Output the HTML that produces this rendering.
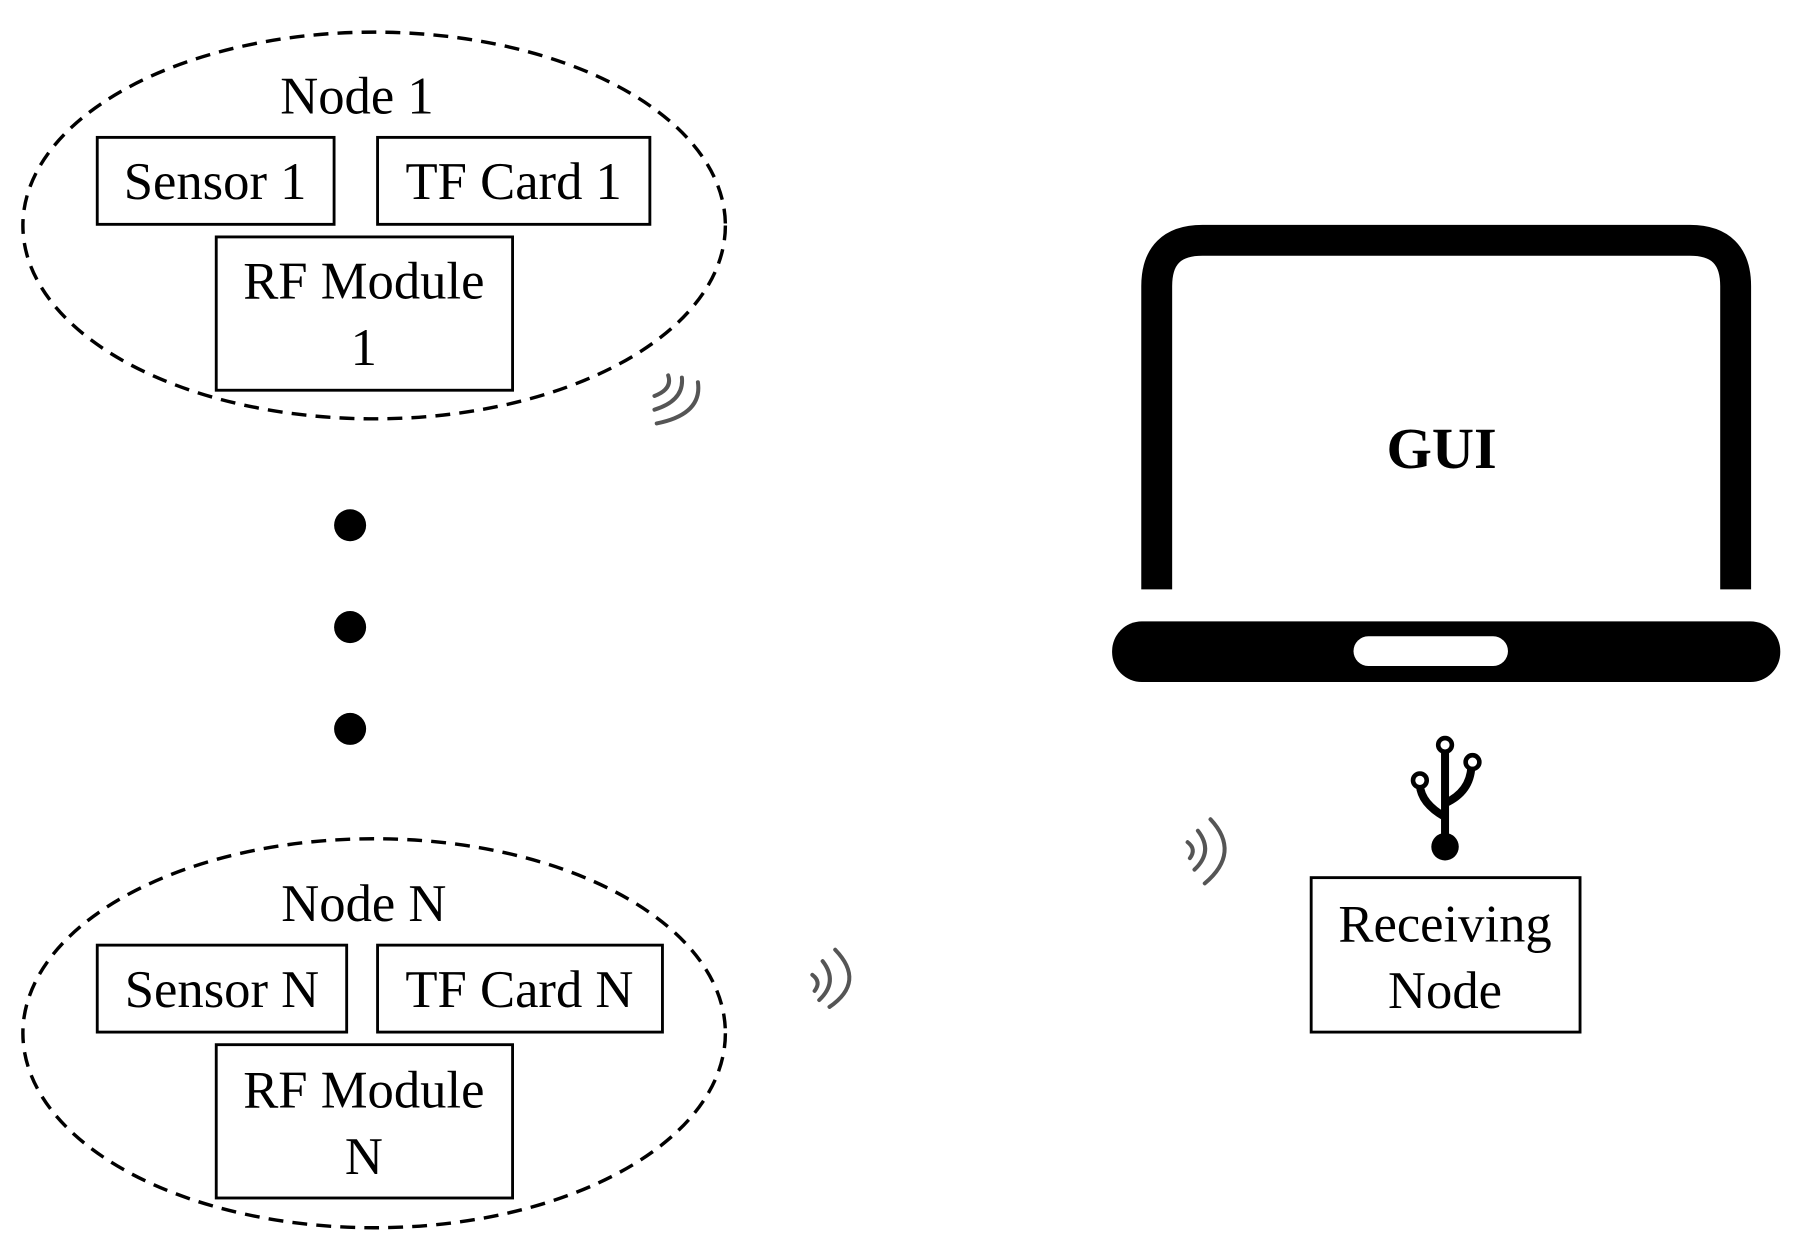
<!DOCTYPE html>
<html><head><meta charset="utf-8"><style>html,body{margin:0;padding:0;background:#fff}svg{display:block}</style></head>
<body>
<svg width="1794" height="1253" viewBox="0 0 1568 1095" xmlns="http://www.w3.org/2000/svg" font-family="Liberation Serif, serif">
<rect width="1568" height="1095" fill="#fff"/>
<g fill="none" stroke="#000" stroke-width="3" stroke-dasharray="13,8">
<ellipse cx="327" cy="197" rx="307" ry="169"/>
<ellipse cx="327" cy="903" rx="307" ry="170"/>
</g>
<g fill="#fff" stroke="#000" stroke-width="2.5">
<rect x="85" y="120" width="207" height="76"/>
<rect x="330" y="120" width="238" height="76"/>
<rect x="189" y="207" width="259" height="134"/>
<rect x="85" y="826" width="218" height="76"/>
<rect x="330" y="826" width="249" height="76"/>
<rect x="189" y="913" width="259" height="134"/>
<rect x="1146" y="767" width="235" height="135"/>
</g>
<g font-size="46" text-anchor="middle" fill="#000">
<text x="312" y="99">Node 1</text>
<text x="188" y="174">Sensor 1</text>
<text x="449" y="174">TF Card 1</text>
<text x="318" y="261">RF Module</text>
<text x="318" y="319">1</text>
<text x="318" y="805">Node N</text>
<text x="194" y="880">Sensor N</text>
<text x="454" y="880">TF Card N</text>
<text x="318" y="968">RF Module</text>
<text x="318" y="1026">N</text>
<text x="1263" y="823">Receiving</text>
<text x="1263" y="881">Node</text>
<text x="1260" y="409" font-weight="bold" font-size="51">GUI</text>
</g>
<g fill="#000">
<circle cx="306" cy="459" r="14"/>
<circle cx="306" cy="548" r="14"/>
<circle cx="306" cy="637" r="14"/>
</g>
<g fill="none" stroke="#555" stroke-width="3.5" stroke-linecap="round">
<path d="M584 328 Q588 340 572 346"/><path d="M596 330 Q598 350 572 358"/><path d="M610 334 Q614 362 574 370"/>
<path d="M710 852 Q718 858 712 866"/><path d="M719 840 Q733 858 716 874"/><path d="M730 830 Q757 858 725 880"/>
<path d="M1038 736 Q1046 742 1040 750"/><path d="M1047 726 Q1061 744 1044 760"/><path d="M1058 716 Q1085 745 1053 772"/>
</g>
<path d="M1011 515 V250 Q1011 210 1051 210 H1477 Q1517 210 1517 250 V515" fill="none" stroke="#000" stroke-width="27"/>
<rect x="972" y="543" width="584" height="53" rx="26" fill="#000"/>
<rect x="1183" y="556" width="135" height="26" rx="13" fill="#fff"/>
<g fill="none" stroke="#000" stroke-width="7">
<path d="M1263 740 V656"/>
<path d="M1263 714 Q1242 702 1241 686"/>
<path d="M1263 702 Q1285 692 1286 670"/>
</g>
<circle cx="1263" cy="740" r="12" fill="#000"/>
<g fill="#fff" stroke="#000" stroke-width="4">
<circle cx="1263" cy="651" r="6"/><circle cx="1241" cy="682" r="6"/><circle cx="1287" cy="666" r="6"/>
</g>
</svg>
</body></html>
